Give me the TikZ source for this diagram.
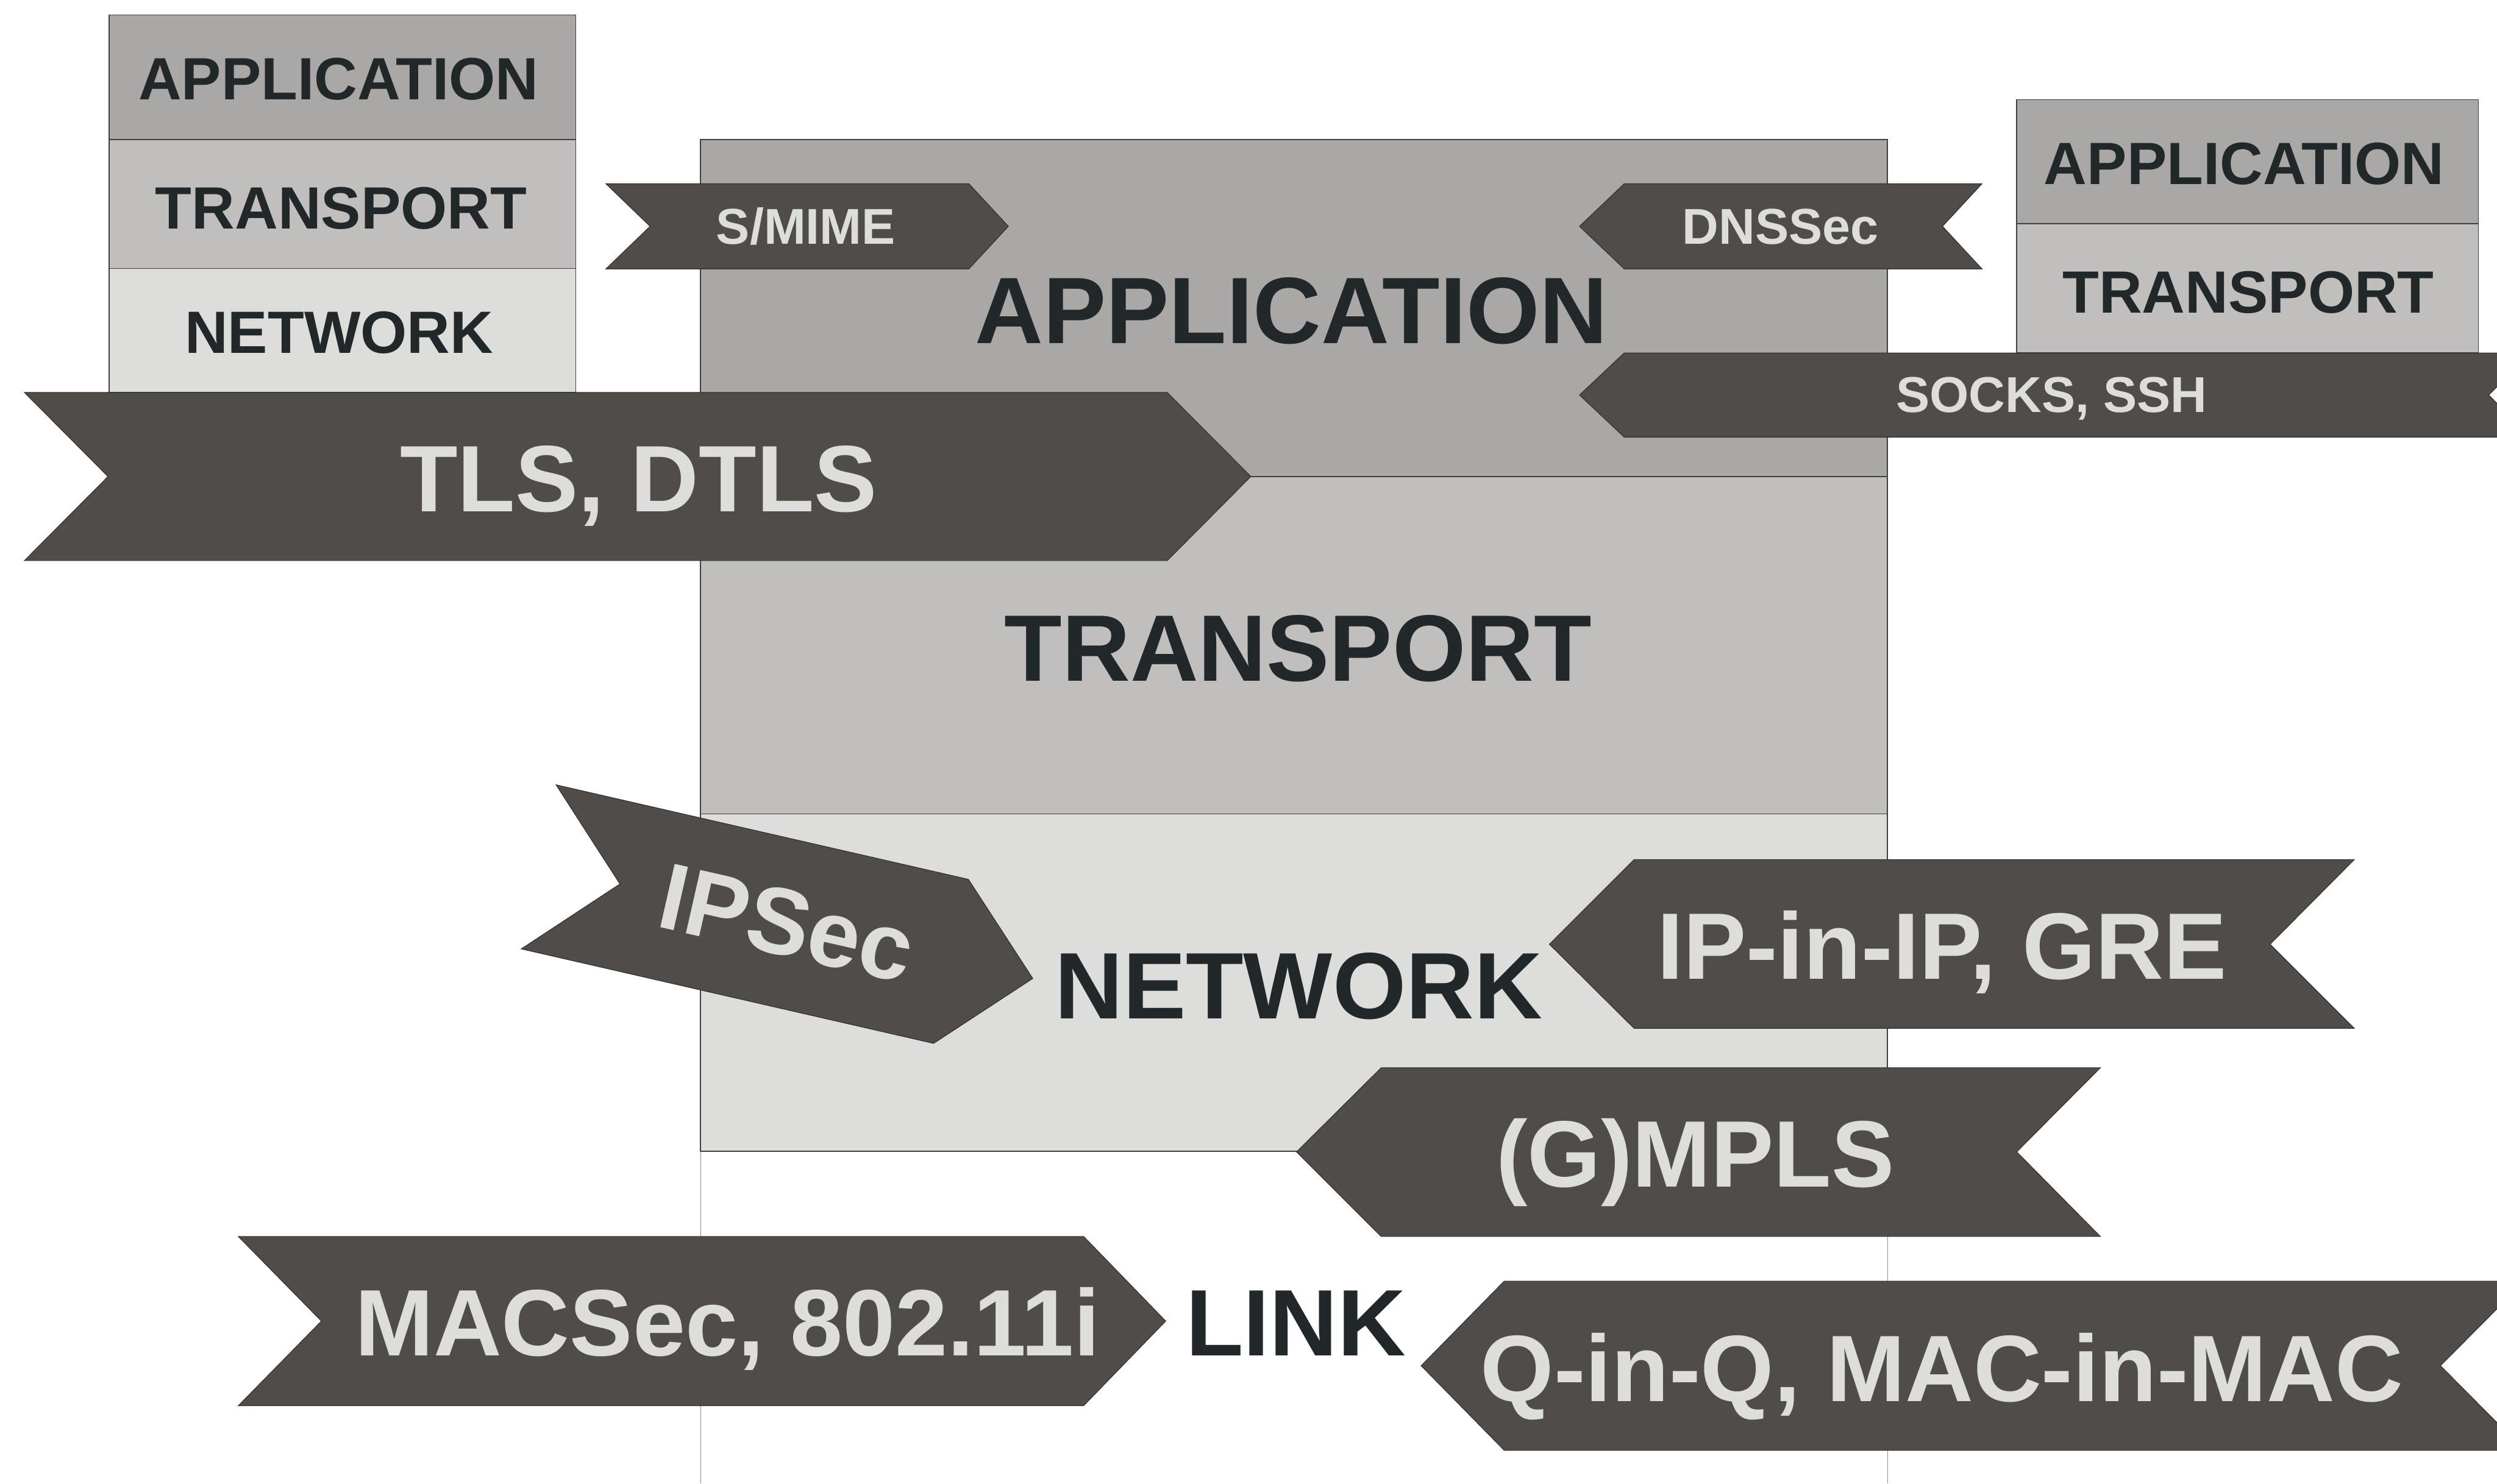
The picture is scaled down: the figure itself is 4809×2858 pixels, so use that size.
\documentclass[tikz,border=0pt]{standalone}
\usepackage{fontspec}
\setmainfont{Liberation Sans}
\definecolor{appgray}{HTML}{A9A8A6}
\definecolor{trngray}{HTML}{C0BFBD}
\definecolor{netgray}{HTML}{DDDDDB}
\definecolor{bandgray}{HTML}{4F4C49}
\definecolor{inkgray}{HTML}{22282A}

\begin{document}
\begin{tikzpicture}[x=0.01cm,y=-0.01cm]
        \tikzstyle{layer}=[draw=black!75,line width=0.5pt]
        \tikzstyle{band}=[fill=bandgray,draw=black!80,line width=0.4pt]
        \tikzstyle{big}=[inner sep=0pt,anchor=base,text=inkgray,font=\fontsize{51.7}{60}\selectfont\bfseries]
        \tikzstyle{side}=[big,font=\fontsize{32.7}{40}\selectfont\bfseries]
        \tikzstyle{tag}=[big,text=netgray]
        \tikzstyle{smalltag}=[tag,font=\fontsize{27.6}{34}\selectfont\bfseries]
        \useasboundingbox (0,0) rectangle (4809,2858);
        \clip (0,0) rectangle (4809,2858);
        % side stacks
        \filldraw[layer,fill=appgray] (210,29) rectangle (1109,269);
        \filldraw[layer,fill=trngray] (210,269) rectangle (1109,517);
        \filldraw[layer,fill=netgray] (210,517) rectangle (1109,756);
        \filldraw[layer,fill=appgray] (3884,192) rectangle (4773,431);
        \filldraw[layer,fill=trngray] (3884,431) rectangle (4773,680);
        % main stack
        \filldraw[layer,fill=appgray] (1349,269) rectangle (3635,918);
        \filldraw[layer,fill=trngray] (1349,918) rectangle (3635,1568);
        \filldraw[layer,fill=netgray] (1349,1568) rectangle (3635,2218);
        \draw[black!45,line width=0.3pt] (1349,2218) -- (1349,2858) (3635,2218) -- (3635,2858);
        % banners
        \filldraw[band] (1167,354) -- (1866,354) -- (1942,436) -- (1866,518) -- (1167,518) -- (1252,436) -- cycle;
        \filldraw[band] (3128,354) -- (3817,354) -- (3741,436) -- (3817,518) -- (3128,518) -- (3042,436) -- cycle;
        \filldraw[band] (3128,680) -- (4873,680) -- (4793,761) -- (4873,842) -- (3128,842) -- (3042,761) -- cycle;
        \filldraw[band] (47,756) -- (2248,756) -- (2409,918) -- (2248,1080) -- (47,1080) -- (208,918) -- cycle;
        \filldraw[band] (1071,1512) -- (1865,1694) -- (1989,1885) -- (1798,2010) -- (1004,1828) -- (1194,1703) -- cycle;
        \filldraw[band] (3147,1656) -- (4534,1656) -- (4372,1819) -- (4534,1981) -- (3147,1981) -- (2984,1819) -- cycle;
        \filldraw[band] (2660,2057) -- (4045,2057) -- (3884,2219) -- (4045,2382) -- (2660,2382) -- (2497,2219) -- cycle;
        \filldraw[band] (459,2382) -- (2087,2382) -- (2245,2545) -- (2087,2708) -- (459,2708) -- (619,2545) -- cycle;
        \filldraw[band] (2897,2468) -- (4862,2468) -- (4700,2631) -- (4862,2794) -- (2897,2794) -- (2737,2631) -- cycle;
        % layer names
        \node[side] (lapp) at (652,192) {APPLICATION};
        \node[side] (ltrn) at (657,441) {TRANSPORT};
        \node[side] (lnet) at (653,680) {NETWORK};
        \node[side] (rapp) at (4322,355) {APPLICATION};
        \node[side] (rtrn) at (4330,603) {TRANSPORT};
        \node[big] (app) at (2487,662) {APPLICATION};
        \node[big] (trn) at (2500,1312) {TRANSPORT};
        \node[big] (net) at (2501,1962) {NETWORK};
        \node[big] (lnk) at (2496,2612) {LINK};
        % protocols
        \node[smalltag] (smime) at (1552,470) {S/MIME};
        \node[smalltag] (dnssec) at (3429,470) {DNSSec};
        \node[smalltag] (socks) at (3951,794) {SOCKS, SSH};
        \node[tag] (tls) at (1230,986) {TLS, DTLS};
        \node[tag,anchor=center,text height=1.3cm,text depth=0pt,rotate=-12.8] (ipsec) at (1516,1776) {IPSec};
        \node[tag] (ipip) at (3740,1886) {IP-in-IP, GRE};
        \node[tag] (gmpls) at (3265,2287) {(G)MPLS};
        \node[tag] (macsec) at (1401,2612) {MACSec, 802.11i};
        \node[tag] (qinq) at (3740,2700) {Q-in-Q, MAC-in-MAC};
\end{tikzpicture}
\end{document}
